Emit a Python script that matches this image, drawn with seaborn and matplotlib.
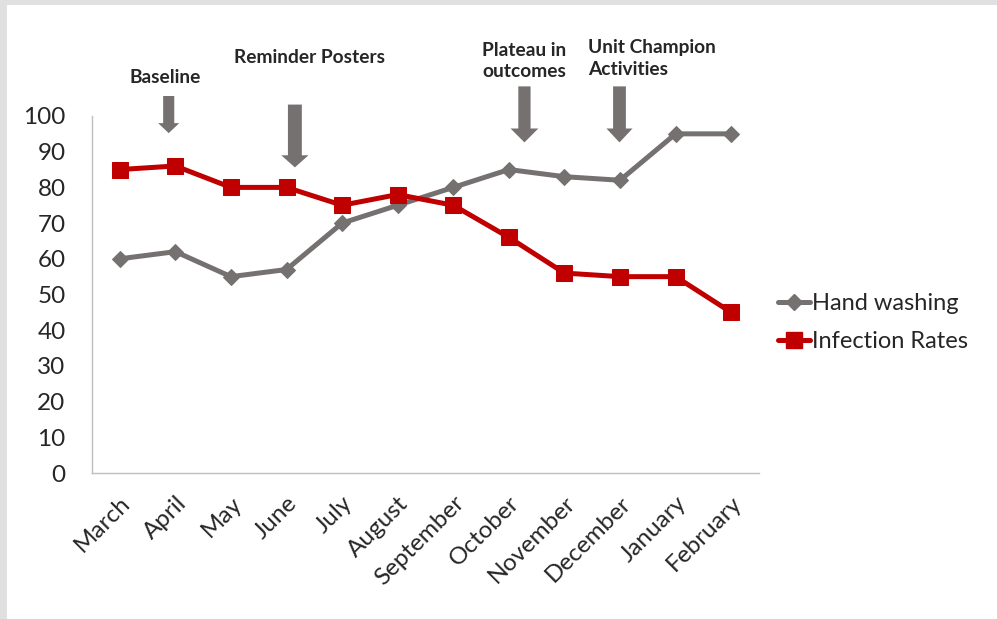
import pandas as pd
import matplotlib
matplotlib.use('Agg')
import matplotlib.pyplot as plt
from matplotlib.patches import Rectangle, FancyArrow
from matplotlib.lines import Line2D
import seaborn as sns

# Datos del grafico
months = ['March', 'April', 'May', 'June', 'July', 'August', 'September',
          'October', 'November', 'December', 'January', 'February']
hand_washing = [60, 62, 55, 57, 70, 75, 80, 85, 83, 82, 95, 95]
infection_rates = [85, 86, 80, 80, 75, 78, 75, 66, 56, 55, 55, 45]

gray = '#767171'
red = '#c00000'

sns.set_style('white')
plt.rcParams['font.family'] = ['Lato', 'DejaVu Sans']

df = pd.DataFrame({'pos': range(len(months)), 'month': months,
                   'Hand washing': hand_washing, 'Infection Rates': infection_rates})

fig = plt.figure(figsize=(9.97, 6.19), dpi=100)
fig.patch.set_facecolor('#e0e0e0')
fig.add_artist(Rectangle((7 / 997, 0), 1, 1 - 5 / 619, transform=fig.transFigure,
                         facecolor='white', edgecolor='none', zorder=-1))
ax = fig.add_axes([92 / 997, 1 - 473 / 619, (759 - 92) / 997, (473 - 116) / 619])
ax.patch.set_alpha(0)

sns.lineplot(data=df, x='pos', y='Hand washing', ax=ax, color=gray, lw=3.6,
             marker='D', markersize=8.5, markeredgecolor=gray, sort=False)
sns.lineplot(data=df, x='pos', y='Infection Rates', ax=ax, color=red, lw=3.6,
             marker='s', markersize=12, markeredgecolor=red, sort=False)

# Ejes al estilo Excel
ax.set_xlim(-0.5, len(months) - 0.5)
ax.set_ylim(0, 100)
ax.set_yticks(range(0, 101, 10))
ax.set_xticks(range(len(months)))
ax.set_xticklabels(months, rotation=45, ha='right', rotation_mode='anchor')
ax.set_xticks([i - 0.5 for i in range(len(months) + 1)], minor=True)
ax.tick_params(axis='x', which='major', length=0, pad=14, labelsize=17.5)
ax.tick_params(axis='x', which='minor', length=6, color='#bfbfbf', width=1)
ax.tick_params(axis='y', length=5, color='#bfbfbf', width=1, pad=14, labelsize=17.5)
ax.set_xlabel('')
ax.set_ylabel('')
for s in ['top', 'right']:
    ax.spines[s].set_visible(False)
for s in ['left', 'bottom']:
    ax.spines[s].set_color('#bfbfbf')
    ax.spines[s].set_linewidth(1)

# Flechas y textos de intervenciones
arrows = [
    (0.88, 105.6, 10.4, 0.20, 0.38, 2.8),
    (3.15, 103.2, 17.6, 0.25, 0.49, 3.4),
    (7.28, 108.3, 15.7, 0.22, 0.50, 3.9),
    (8.99, 108.3, 15.7, 0.23, 0.47, 3.9),
]
for x, y, length, w, hw, hl in arrows:
    ax.add_patch(FancyArrow(x, y, 0, -length, width=w, head_width=hw, head_length=hl,
                            length_includes_head=True, color=gray, lw=0, clip_on=False))

ax.text(0.81, 110.8, 'Baseline', ha='center', va='center', fontsize=13.8, fontweight='bold')
ax.text(3.42, 116.4, 'Reminder Posters', ha='center', va='center', fontsize=13.8, fontweight='bold')
ax.text(7.27, 115.5, 'Plateau in\noutcomes', ha='center', va='center', fontsize=13.8,
        fontweight='bold', linespacing=1.3)
ax.text(8.43, 116.1, 'Unit Champion\nActivities', ha='left', va='center', fontsize=13.8,
        fontweight='bold', linespacing=1.3)

handles = [Line2D([], [], color=gray, lw=3.6, marker='D', markersize=8.5),
           Line2D([], [], color=red, lw=3.6, marker='s', markersize=12)]
fig.legend(handles, ['Hand washing', 'Infection Rates'], loc='center left',
           bbox_to_anchor=(757 / 997, 1 - 323 / 619), frameon=False, fontsize=17,
           handlelength=1.35, handletextpad=0.1, labelspacing=0.72)

fig.savefig('out.png', dpi=100, facecolor=fig.get_facecolor())
